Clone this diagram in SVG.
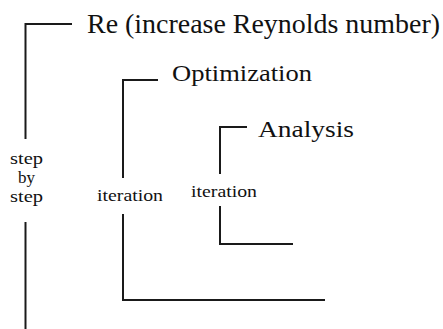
<svg xmlns="http://www.w3.org/2000/svg" width="443" height="329" viewBox="0 0 443 329">
<style>
.ln{fill:none;stroke:#1a1a1a;stroke-width:2}
text{font-family:'Liberation Serif','DejaVu Serif',serif;fill:#111}
.sm{font-size:17px}
</style>
<rect width="443" height="329" fill="#fff"/>
<g id="connectors">
<path class="ln" d="M72,24 H25.5 V139"/>
<path class="ln" d="M25.5,222 V329"/>
<path class="ln" d="M158,80 H123 V178"/>
<path class="ln" d="M123,214 V300 H325"/>
<path class="ln" d="M247,127 H220 V174"/>
<path class="ln" d="M220,206 V244 H293"/>
</g>
<g id="re"><text x="87" y="33" font-size="28" textLength="353" lengthAdjust="spacingAndGlyphs">Re (increase Reynolds number)</text></g>
<g id="optimization"><text x="172" y="81" font-size="23" textLength="140" lengthAdjust="spacingAndGlyphs">Optimization</text></g>
<g id="analysis"><text x="258" y="137" font-size="23" textLength="96" lengthAdjust="spacingAndGlyphs">Analysis</text></g>
<g id="step-by-step">
<text class="sm" x="10" y="164" textLength="33" lengthAdjust="spacingAndGlyphs">step</text>
<text class="sm" x="18" y="183" textLength="17" lengthAdjust="spacingAndGlyphs">by</text>
<text class="sm" x="10" y="202" textLength="33" lengthAdjust="spacingAndGlyphs">step</text>
</g>
<g id="iteration-outer"><text class="sm" x="97" y="201" textLength="66" lengthAdjust="spacingAndGlyphs">iteration</text></g>
<g id="iteration-inner"><text class="sm" x="191" y="197" textLength="66" lengthAdjust="spacingAndGlyphs">iteration</text></g>
</svg>
